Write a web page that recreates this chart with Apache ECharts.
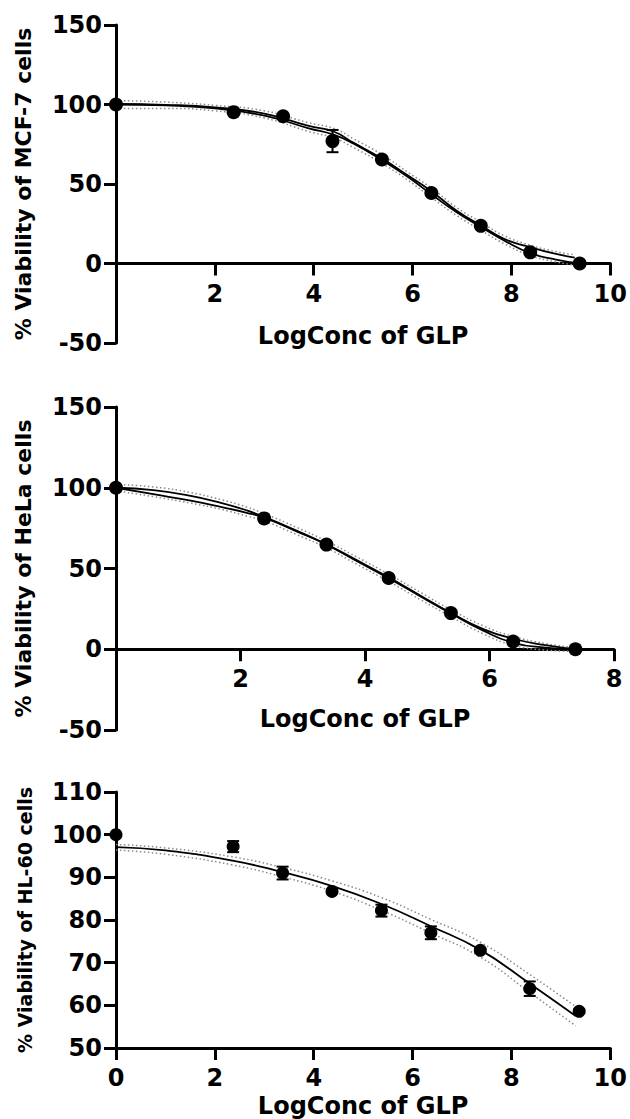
<!DOCTYPE html>
<html><head><meta charset="utf-8">
<script src="https://cdn.jsdelivr.net/npm/echarts@6/dist/echarts.min.js"></script>
<style>html,body{margin:0;padding:0;background:#fff}#c{width:630px;height:1119px}</style>
</head><body><div id="c"></div>
<script>
// ---------- Panel 1: MCF-7 ----------
const mcfX   = [0, 2.38, 3.38, 4.38, 5.38, 6.38, 7.38, 8.38, 9.38];
const mcfY   = [100, 95.2, 92.6, 77, 65.4, 44.3, 23.7, 7, 0];
const mcfErr = [0, 1, 1, 7, 1, 1, 1, 1, 0.5];
const mcfFitA = [[0,100],[1,99.4],[2,97.5],[3,93],[3.9,85],[4.4,81],[4.8,75.5],[5.38,65],[5.9,54.5],[6.38,43.5],[6.9,32],[7.38,23],[7.85,14.5],[8.38,6.5],[8.9,2.5],[9.38,0]];
const mcfFitB = [[0,100.3],[1,99.8],[2,98.2],[3,94.3],[3.9,86.5],[4.4,83],[4.8,76],[5.38,66],[5.9,55.5],[6.38,45.5],[6.9,33],[7.38,24],[7.85,15.5],[8.38,10.3],[8.9,6],[9.28,3.7]];
const mcfBandHi = [[0,102.5],[1,101.5],[2,99.5],[3,96],[3.9,88.5],[4.4,85],[4.8,78.5],[5.38,68.5],[5.9,57.5],[6.38,47.5],[6.9,35],[7.38,26],[7.85,17.5],[8.38,11.5],[8.9,7.5],[9.28,5.5]];
const mcfBandLo = [[0,97.5],[1,97.5],[2,96],[3,91.5],[3.9,83],[4.4,79],[4.8,73],[5.38,63],[5.9,52.5],[6.38,41.5],[6.9,30],[7.38,21],[7.85,12.5],[8.38,5],[8.9,1],[9.28,-1]];

// ---------- Panel 2: HeLa ----------
const helaX   = [0, 2.38, 3.38, 4.38, 5.38, 6.38, 7.38];
const helaY   = [100, 81, 64.8, 44.1, 22.4, 4.8, 0];
const helaErr = [0, 1, 1, 1, 1, 1, 0.5];
const helaFitA = [[0,100],[0.6,98.5],[1.2,95],[1.7,90.5],[2.1,86],[2.38,82],[2.9,73.5],[3.38,65],[3.85,55.5],[4.38,44.5],[4.9,33],[5.38,22.5],[5.9,12.5],[6.38,6.5],[6.9,2.5],[7.38,0]];
const helaFitB = [[0,100],[0.6,96],[1.2,92],[1.7,88],[2.1,84.5],[2.38,81.5],[2.9,73],[3.38,64.8],[3.85,55],[4.38,44],[4.9,32.5],[5.38,22.2],[5.9,11.5],[6.38,4],[6.9,1],[7.38,0]];
const helaBandHi = [[0,102],[0.6,100.5],[1.2,97],[1.7,92.5],[2.1,88],[2.38,84],[2.9,75.5],[3.38,67],[3.85,57.5],[4.38,46.5],[4.9,35],[5.38,24.5],[5.9,14.5],[6.38,8],[6.9,3.5],[7.38,1]];
const helaBandLo = [[0,98],[0.6,94.5],[1.2,90.5],[1.7,86.5],[2.1,82.5],[2.38,79.5],[2.9,71],[3.38,62.8],[3.85,53],[4.38,42],[4.9,30.5],[5.38,20.2],[5.9,9.5],[6.38,2.5],[6.9,-0.5],[7.5,-1.5]];

// ---------- Panel 3: HL-60 ----------
const hlX   = [0, 2.37, 3.37, 4.37, 5.37, 6.37, 7.37, 8.37, 9.37];
const hlY   = [100, 97.2, 91.0, 86.7, 82.2, 77.0, 72.9, 63.9, 58.6];
const hlErr = [0, 1.3, 1.5, 0.4, 1.4, 1.5, 0.4, 1.7, 0.4];
const hlFit = [[0,97.1],[1,96.3],[2.36,93.9],[3.37,91.2],[4.36,88],[5.36,83.8],[6.36,78.6],[7.37,73],[8.36,65.2],[9.3,57.5]];
const hlBandHi = [[0,97.7],[1,96.9],[2.36,94.8],[3.37,92.3],[4.36,89.2],[5.36,85.3],[6.36,80.2],[7.37,74.8],[8.36,67.3],[9.3,59.7]];
const hlBandLo = [[0,96.4],[1,95.4],[2.36,92.9],[3.37,90.1],[4.36,86.8],[5.36,82.3],[6.36,77],[7.37,71.3],[8.36,63.1],[9.3,55.2]];

const xTitle = 'LogConc of GLP';
const yTitles = ['% Viability of MCF-7 cells', '% Viability of HeLa cells', '% Viability of HL-60 cells'];

const FONT = 'DejaVu Sans';
const axisLineStyle = {show:true, onZero:false, lineStyle:{color:'#000', width:3}};
const tickStyle = {show:true, length:12, inside:false, lineStyle:{color:'#000', width:3}};
function lbl(margin, fmt){ return {color:'#000', fontSize:24, fontWeight:'bold', fontFamily:FONT, margin:margin, formatter:fmt}; }

// offset moves the x axis from the grid bottom up to the value y = 0 (negative = upward)
function xAx(i, max, gap, hideZero, offset){
  return {type:'value', gridIndex:i, min:0, max:max, interval:2, position:'bottom', offset:offset,
    axisLine:axisLineStyle, axisTick:tickStyle, splitLine:{show:false},
    axisLabel:lbl(18, hideZero ? (v => v === 0 ? '' : String(v)) : (v => String(v))),
    name:xTitle, nameLocation:'middle', nameGap:gap,
    nameTextStyle:{color:'#000', fontSize:24, fontWeight:'bold', fontFamily:FONT}};
}
function yAx(i, min, max, interval, nameSize, gap){
  return {type:'value', gridIndex:i, min:min, max:max, interval:interval,
    axisLine:axisLineStyle, axisTick:tickStyle, splitLine:{show:false},
    axisLabel:lbl(14, v => String(v)),
    name:yTitles[i], nameLocation:'middle', nameGap:gap,
    nameTextStyle:{color:'#000', fontSize:nameSize, fontWeight:'bold', fontFamily:FONT}};
}

function errRender(params, api){
  const x = api.value(0), y = api.value(1), e = api.value(2);
  if (!e) return null;
  const t = api.coord([x, y + e]), b = api.coord([x, y - e]);
  const hw = 6;
  const st = {stroke:'#000', lineWidth:2};
  return {type:'group', children:[
    {type:'line', shape:{x1:t[0], y1:t[1], x2:b[0], y2:b[1]}, style:st},
    {type:'line', shape:{x1:t[0]-hw, y1:t[1], x2:t[0]+hw, y2:t[1]}, style:st},
    {type:'line', shape:{x1:b[0]-hw, y1:b[1], x2:b[0]+hw, y2:b[1]}, style:st}
  ]};
}

function band(i, data){
  return {type:'line', xAxisIndex:i, yAxisIndex:i, data:data, smooth:true, showSymbol:false, silent:true,
    lineStyle:{color:'#8a8a8a', width:1.5, type:[1.5,2.5]}, z:2};
}
function fit(i, data){
  return {type:'line', xAxisIndex:i, yAxisIndex:i, data:data, smooth:true, showSymbol:false, silent:true,
    lineStyle:{color:'#000', width:1.8}, z:3};
}
function errs(i, xs, ys, es){
  return {type:'custom', xAxisIndex:i, yAxisIndex:i, renderItem:errRender, clip:false,
    data:xs.map((x,k)=>[x, ys[k], es[k]]), encode:{x:0, y:1}, z:4};
}
function pts(i, xs, ys, size){
  return {type:'scatter', xAxisIndex:i, yAxisIndex:i, symbol:'circle', symbolSize:size,
    itemStyle:{color:'#000', opacity:1}, data:xs.map((x,k)=>[x, ys[k]]), z:5};
}

const option = {
  animation:false,
  backgroundColor:'#fff',
  grid:[
    {left:116, top:25, width:500, height:318},
    {left:116, top:407, width:498, height:323},
    {left:116, top:792, width:498, height:261}
  ],
  xAxis:[ xAx(0, 10, 60, true, -79.5), xAx(1, 8, 58, true, -80.75), xAx(2, 10, 46, false, 0) ],
  yAxis:[ yAx(0, -50, 150, 50, 22, 82), yAx(1, -50, 150, 50, 22, 82), yAx(2, 50, 110, 10, 19, 82) ],
  series:[
    band(0, mcfBandHi), band(0, mcfBandLo), fit(0, mcfFitA), fit(0, mcfFitB),
    errs(0, mcfX, mcfY, mcfErr), pts(0, mcfX, mcfY, 14),
    band(1, helaBandHi), band(1, helaBandLo), fit(1, helaFitA), fit(1, helaFitB),
    errs(1, helaX, helaY, helaErr), pts(1, helaX, helaY, 14),
    band(2, hlBandHi), band(2, hlBandLo), fit(2, hlFit),
    errs(2, hlX, hlY, hlErr), pts(2, hlX, hlY, 13)
  ]
};
const chart = echarts.init(document.getElementById('c'), null, {renderer:'svg'});
chart.setOption(option);
</script>
</body></html>
